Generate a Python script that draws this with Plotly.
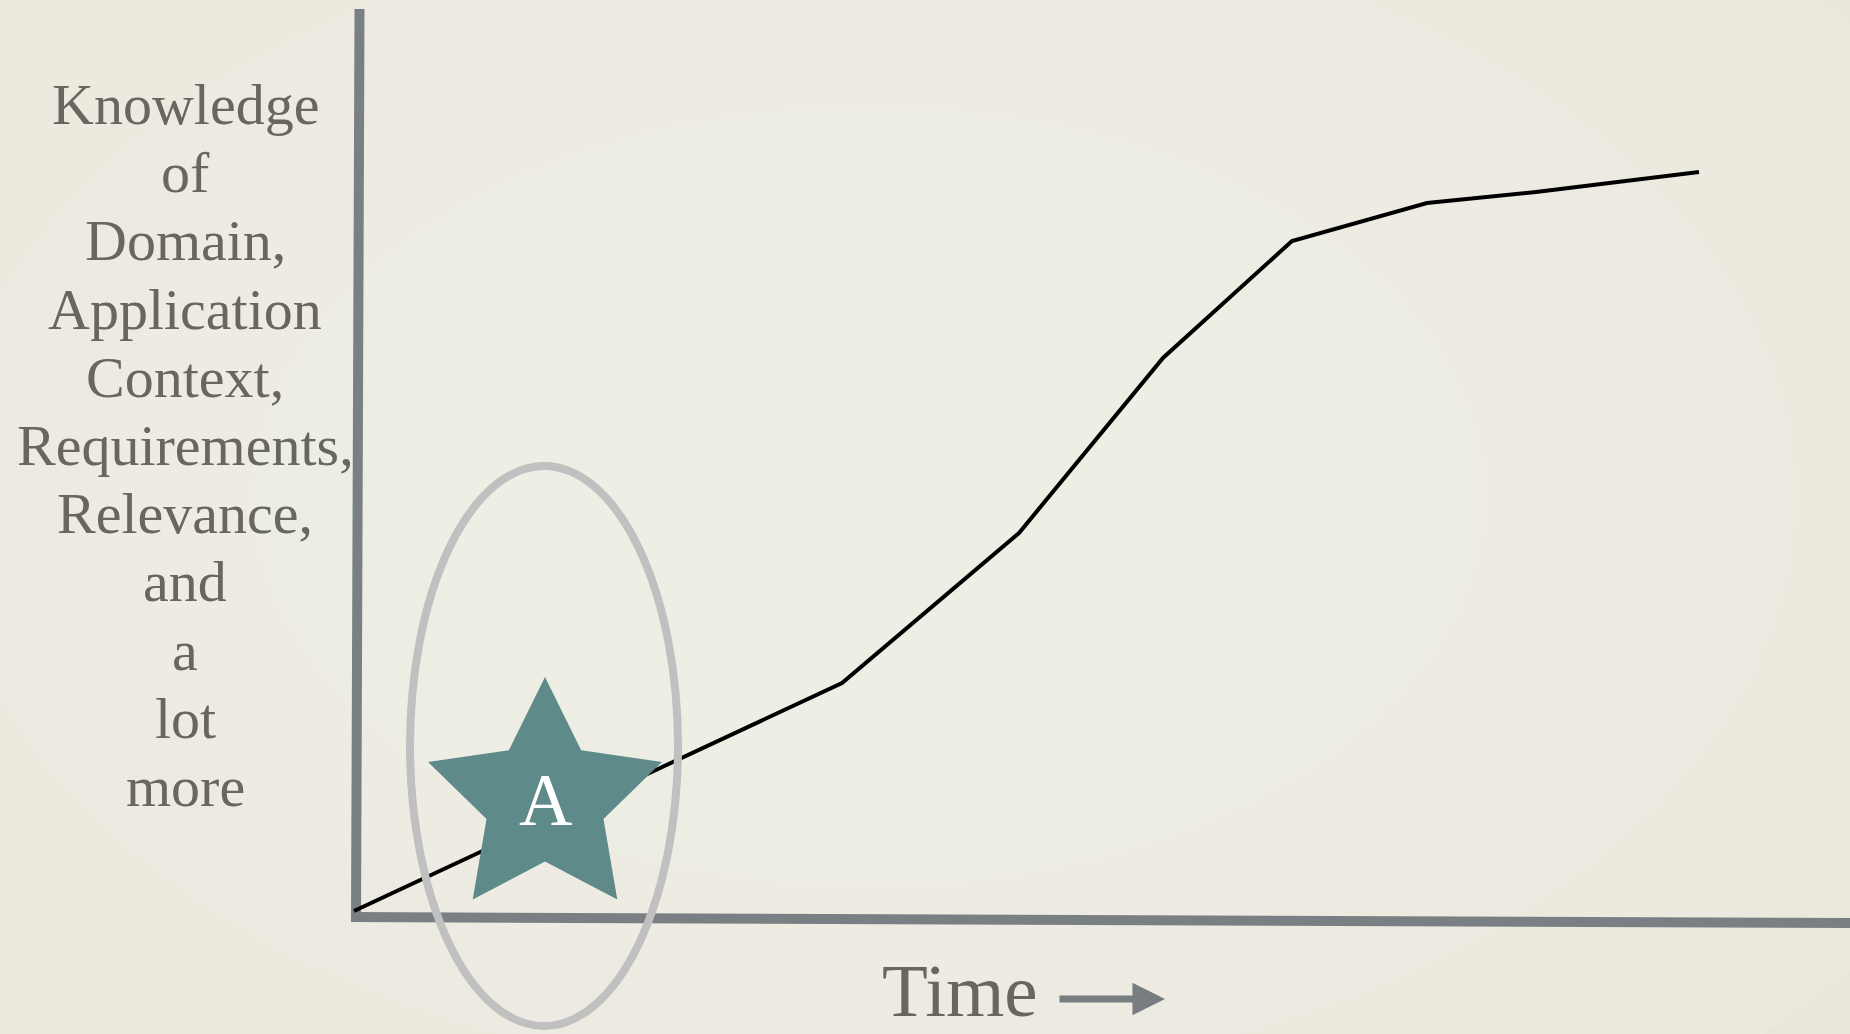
import math
import plotly.graph_objects as go

# ---------------- data ----------------
time_vals = [0.0, 4.88, 6.65, 8.09, 9.38, 10.73, 11.82, 13.45]
knowledge_vals = [0.0, 2.28, 3.78, 5.53, 6.70, 7.08, 7.19, 7.39]

ylabel_lines = ["Knowledge", "of", "Domain,", "Application", "Context,",
                "Requirements,", "Relevance,", "and", "a", "lot", "more"]
xlabel_text = "Time"
star_label = "A"
star_center = (1.91, 1.11)   # data units
star_outer = 1.23            # data units
star_inner_ratio = 0.5

# ---------------- layout constants ----------------
W, H = 1850, 1034
OX, OY = 354, 911          # pixel position of data origin
S = 100.0                  # pixels per data unit
XR = [-OX / S, (W - OX) / S]
YR = [(OY - H) / S, OY / S]

FONT = "Liberation Serif"
TEXT_COL = "#67675f"
AXIS_COL = "#7a7f83"

def px_x(v):
    return (v - OX) / S

def px_y(v):
    return (OY - v) / S

fig = go.Figure()

fig.add_trace(go.Scatter(
    x=time_vals, y=knowledge_vals, mode="lines",
    line=dict(color="#000000", width=4), hoverinfo="skip", showlegend=False))

# five-pointed star badge
sx, sy = [], []
for k in range(11):
    ang = math.radians(90 + 36 * k)
    rad = star_outer if k % 2 == 0 else star_outer * star_inner_ratio
    sx.append(star_center[0] + rad * math.cos(ang))
    sy.append(star_center[1] + rad * math.sin(ang))
fig.add_trace(go.Scatter(
    x=sx, y=sy, mode="lines", fill="toself", fillcolor="#5e8a8a",
    line=dict(width=0, color="#5e8a8a"), hoverinfo="skip", showlegend=False))

shapes = []
# background vignette (lighter toward centre)
n_steps = 9
for i in range(n_steps):
    f = 1.0 - i / n_steps
    cx, cy = 0.47, 0.52
    rx, ry = 0.75 * f, 0.85 * f
    shapes.append(dict(type="circle", xref="paper", yref="paper",
                       x0=cx - rx, x1=cx + rx, y0=cy - ry, y1=cy + ry,
                       fillcolor="#f2f1e8", opacity=0.22, line=dict(width=0),
                       layer="below"))

# axes (slightly hand-drawn tilt)
shapes.append(dict(type="line", xref="x", yref="y",
                   x0=px_x(359.5), y0=px_y(9), x1=px_x(356), y1=px_y(922),
                   line=dict(color=AXIS_COL, width=10), layer="below"))
shapes.append(dict(type="line", xref="x", yref="y",
                   x0=px_x(351), y0=px_y(917), x1=px_x(W + 5), y1=px_y(923),
                   line=dict(color=AXIS_COL, width=10), layer="below"))
# highlight ellipse
shapes.append(dict(type="circle", xref="x", yref="y",
                   x0=px_x(410), x1=px_x(678), y0=px_y(1026), y1=px_y(466),
                   line=dict(color="#c0c0c0", width=8), layer="above"))

annotations = []
baseline0 = 124
spacing = 68.2
fs_y = 58
for i, line in enumerate(ylabel_lines):
    base = baseline0 + i * spacing
    cy = base - 0.3375 * fs_y
    annotations.append(dict(text=line, xref="paper", yref="paper",
                            x=185 / W, y=1 - cy / H, xanchor="center",
                            yanchor="middle", showarrow=False,
                            font=dict(family=FONT, size=fs_y, color=TEXT_COL)))

fs_t = 75
annotations.append(dict(text=xlabel_text, xref="paper", yref="paper",
                        x=1040 / W, y=1 - (1016 - 0.3375 * fs_t) / H,
                        xanchor="right", yanchor="middle", showarrow=False,
                        font=dict(family=FONT, size=fs_t, color=TEXT_COL)))
# arrow after "Time"
annotations.append(dict(text="", x=px_x(1165), y=px_y(999),
                        ax=px_x(1058), ay=px_y(999), axref="x", ayref="y",
                        xref="x", yref="y", showarrow=True, arrowhead=2,
                        arrowsize=0.93, arrowwidth=7, arrowcolor="#777d81"))

fs_a = 74
annotations.append(dict(text=star_label, xref="x", yref="y",
                        x=star_center[0], y=px_y(825 - 0.3375 * fs_a),
                        xanchor="center", yanchor="middle", showarrow=False,
                        font=dict(family=FONT, size=fs_a, color="#ffffff")))

fig.update_layout(
    width=W, height=H,
    margin=dict(l=0, r=0, t=0, b=0),
    paper_bgcolor="#e7e3d7",
    plot_bgcolor="rgba(0,0,0,0)",
    xaxis=dict(range=XR, visible=False, fixedrange=True),
    yaxis=dict(range=YR, visible=False, fixedrange=True),
    shapes=shapes,
    annotations=annotations,
    showlegend=False,
)

fig.write_html("out.html", config={"displayModeBar": False})
